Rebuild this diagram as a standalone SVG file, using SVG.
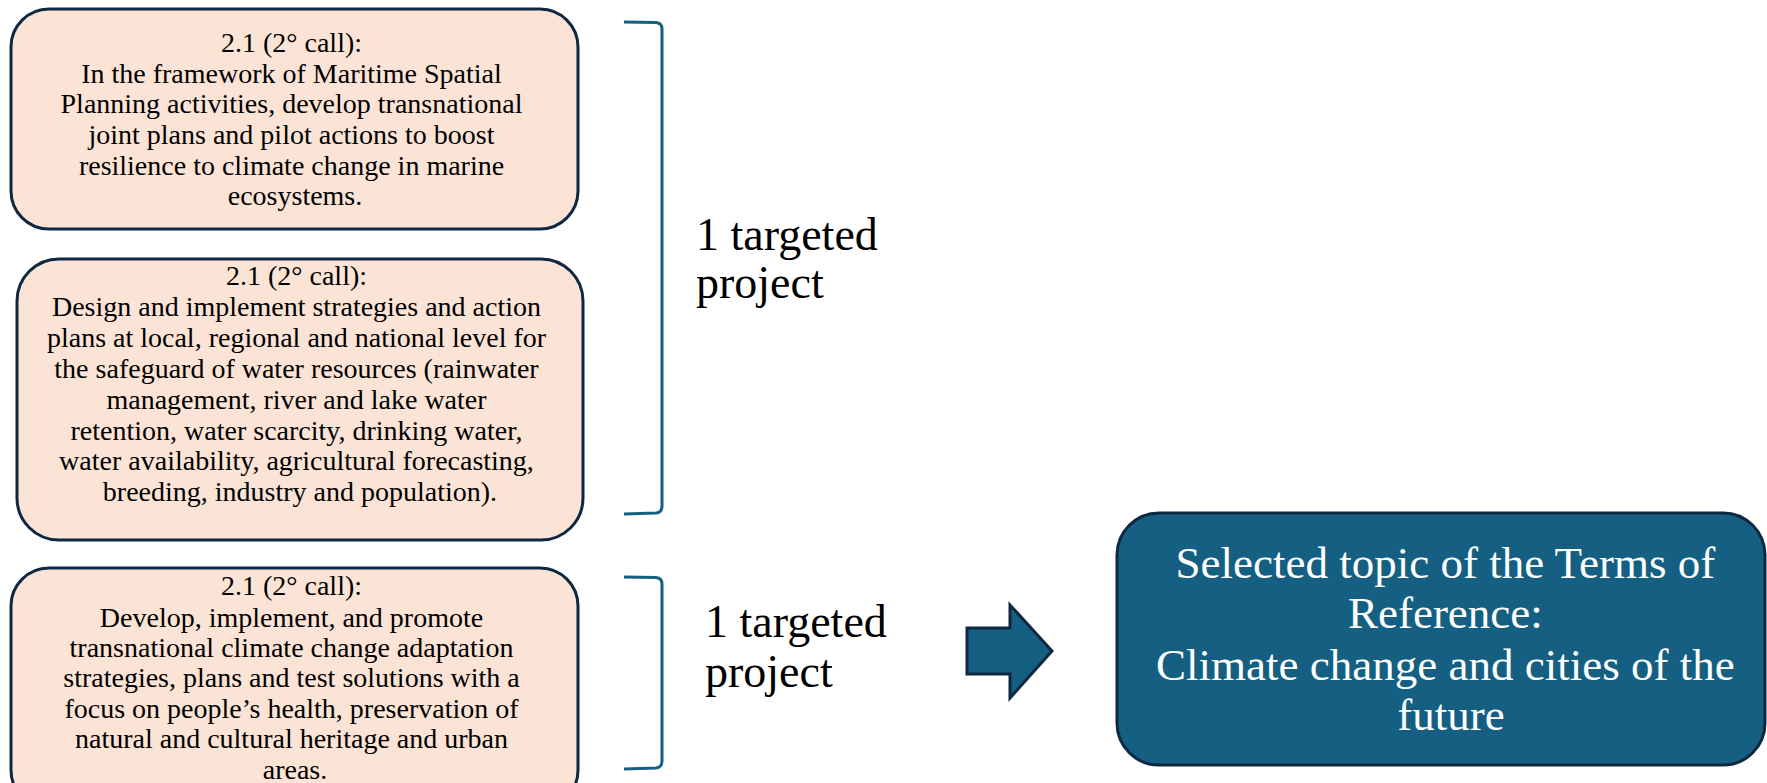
<svg xmlns="http://www.w3.org/2000/svg" width="1767" height="783" viewBox="0 0 1767 783">
  <style>
    .box { fill: #fbe3d6; stroke: #0e2841; stroke-width: 3; }
    .boxtext { font-family: "Liberation Serif", "Times New Roman", serif; font-size: 28px; fill: #000; text-anchor: middle; }
    .label { font-family: "Liberation Serif", "Times New Roman", serif; font-size: 46px; fill: #000; }
    .bracket { fill: none; stroke: #156082; stroke-width: 3; stroke-linejoin: round; }
    .topic { fill: #156082; stroke: #0e2841; stroke-width: 3; }
    .topictext { font-family: "Liberation Serif", "Times New Roman", serif; font-size: 45px; fill: #fff; text-anchor: middle; }
  </style>
  <rect width="1767" height="783" fill="#fff"/>

  <g id="node-box1">
    <rect class="box" x="11" y="9" width="567" height="220" rx="38" ry="38"/>
    <text class="boxtext">
      <tspan x="295" y="52">2.1 (2° call):</tspan>
      <tspan x="295" y="83">In the framework of Maritime Spatial</tspan>
      <tspan x="295" y="113">Planning activities, develop transnational</tspan>
      <tspan x="295" y="144">joint plans and pilot actions to boost</tspan>
      <tspan x="295" y="175">resilience to climate change in marine</tspan>
      <tspan x="295" y="205">ecosystems.</tspan>
    </text>
  </g>

  <g id="node-box2">
    <rect class="box" x="17" y="259" width="566" height="281" rx="42" ry="42"/>
    <text class="boxtext">
      <tspan x="300" y="285">2.1 (2° call):</tspan>
      <tspan x="300" y="316">Design and implement strategies and action</tspan>
      <tspan x="300" y="347">plans at local, regional and national level for</tspan>
      <tspan x="300" y="378">the safeguard of water resources (rainwater</tspan>
      <tspan x="300" y="409">management, river and lake water</tspan>
      <tspan x="300" y="440">retention, water scarcity, drinking water,</tspan>
      <tspan x="300" y="470">water availability, agricultural forecasting,</tspan>
      <tspan x="300" y="501">breeding, industry and population).</tspan>
    </text>
  </g>

  <g id="node-box3">
    <rect class="box" x="11" y="568" width="567" height="240" rx="38" ry="38"/>
    <text class="boxtext">
      <tspan x="295" y="595">2.1 (2° call):</tspan>
      <tspan x="295" y="627">Develop, implement, and promote</tspan>
      <tspan x="295" y="657">transnational climate change adaptation</tspan>
      <tspan x="295" y="687">strategies, plans and test solutions with a</tspan>
      <tspan x="295" y="718">focus on people’s health, preservation of</tspan>
      <tspan x="295" y="748">natural and cultural heritage and urban</tspan>
      <tspan x="295" y="779">areas.</tspan>
    </text>
  </g>

  <g id="node-label1">
    <text class="label">
      <tspan x="696" y="250">1 targeted</tspan>
      <tspan x="696" y="298">project</tspan>
    </text>
  </g>

  <g id="node-label2">
    <text class="label">
      <tspan x="705" y="637">1 targeted</tspan>
      <tspan x="705" y="687">project</tspan>
    </text>
  </g>

  <g id="node-topic">
    <rect class="topic" x="1117" y="513" width="648" height="252" rx="42" ry="42"/>
    <text class="topictext">
      <tspan x="1451" y="578">Selected topic of the Terms of</tspan>
      <tspan x="1451" y="628">Reference:</tspan>
      <tspan x="1451" y="680">Climate change and cities of the</tspan>
      <tspan x="1451" y="730">future</tspan>
    </text>
  </g>

  <g id="connectors">
    <path class="bracket" d="M624,22 L656,22.5 Q662,23 662,29 L662,506 Q662,512.5 656,513 L624,514"/>
    <path class="bracket" d="M624,577 L656,577.5 Q662,578 662,584 L662,761 Q662,767.5 656,768 L624,769"/>
    <path class="topic" d="M967,628 L1010,628 L1010,605 L1052,651 L1010,698 L1010,674 L967,674 Z"/>
  </g>
</svg>
